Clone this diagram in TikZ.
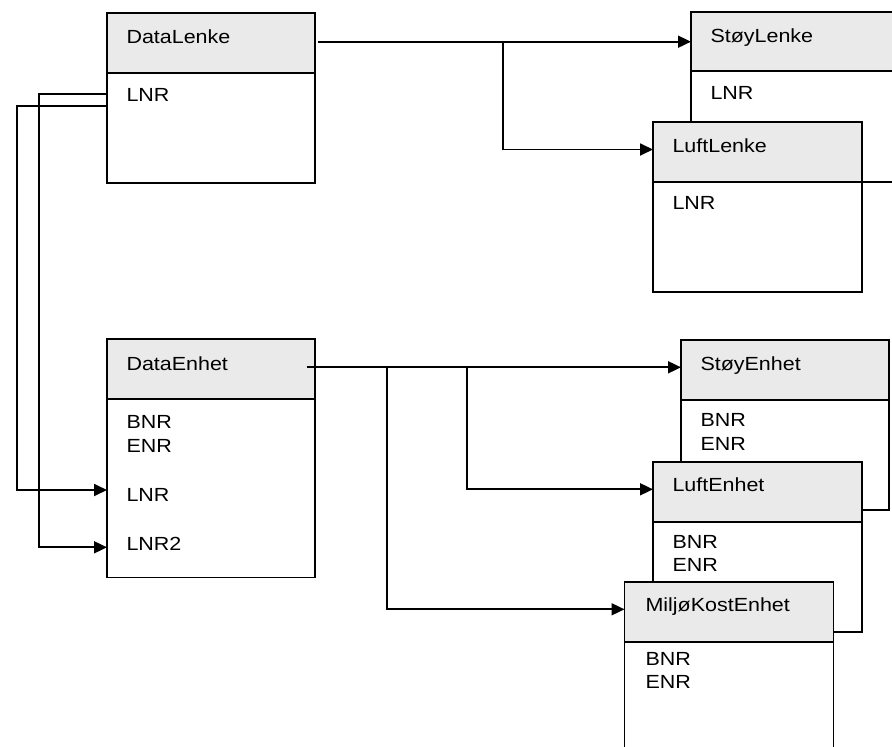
\documentclass[tikz,border=0pt]{standalone}
\usepackage{fontspec}
\setmainfont{Liberation Sans}[FakeStretch=1.13]
\usetikzlibrary{arrows.meta}
\definecolor{hdrgray}{RGB}{234,234,234}
\begin{document}
\begin{tikzpicture}[x=1pt,y=-1pt,line width=1.8pt,
  bdy/.style={draw,fill=white,anchor=north west,inner sep=0pt,outer sep=0pt},
  hdr/.style={draw,fill=hdrgray,anchor=north west,inner sep=0pt,outer sep=0pt},
  lbl/.style={anchor=base west,inner sep=0pt,outer sep=0pt,font=\fontsize{19}{24}\selectfont},
  conn/.style={-{Triangle[length=13pt,width=12pt]}},
  wire/.style={}]
\useasboundingbox (0,0) rectangle (892,747);
\clip (0,0) rectangle (892,747);

% DataLenke
\node[bdy,minimum width=208pt,minimum height=170pt] (dl) at (107,13) {};
\node[hdr,minimum width=208pt,minimum height=60pt] (dlh) at (107,13) {};
\node[lbl] (dlt) at (126.5,43) {DataLenke};
\node[lbl] (dl1) at (126.5,101) {LNR};

% DataEnhet
\node[bdy,minimum width=208pt,minimum height=238.5pt] (de) at (107,339) {};
\node[hdr,minimum width=208pt,minimum height=60pt] (deh) at (107,339) {};
\node[lbl] (det) at (126.5,370) {DataEnhet};
\node[lbl] (de1) at (126.5,428) {BNR};
\node[lbl] (de2) at (126.5,452.5) {ENR};
\node[lbl] (de3) at (126.5,501.5) {LNR};
\node[lbl] (de4) at (126.5,550.7) {LNR2};

% StoeyLenke
\node[bdy,minimum width=260pt,minimum height=170pt] (sl) at (691,12) {};
\node[hdr,minimum width=260pt,minimum height=59pt] (slh) at (691,12) {};
\node[lbl] (slt) at (710.5,42) {StøyLenke};
\node[lbl] (sl1) at (710.5,99) {LNR};

% LuftLenke
\node[bdy,minimum width=209pt,minimum height=170pt] (ll) at (653,122) {};
\node[hdr,minimum width=209pt,minimum height=60pt] (llh) at (653,122) {};
\node[lbl] (llt) at (672.5,152) {LuftLenke};
\node[lbl] (ll1) at (672.5,209) {LNR};

% StoeyEnhet
\node[bdy,minimum width=208pt,minimum height=170pt] (se) at (681,340) {};
\node[hdr,minimum width=208pt,minimum height=60pt] (seh) at (681,340) {};
\node[lbl] (set) at (700.5,370.7) {StøyEnhet};
\node[lbl] (se1) at (700.5,426) {BNR};
\node[lbl] (se2) at (700.5,450) {ENR};

% LuftEnhet
\node[bdy,minimum width=209pt,minimum height=170pt] (le) at (653,462) {};
\node[hdr,minimum width=209pt,minimum height=60pt] (leh) at (653,462) {};
\node[lbl] (let) at (672.5,491.7) {LuftEnhet};
\node[lbl] (le1) at (672.5,548.3) {BNR};
\node[lbl] (le2) at (672.5,571.7) {ENR};

% MiljoeKostEnhet
\node[bdy,minimum width=209pt,minimum height=220pt] (mk) at (624.5,582) {};
\node[hdr,minimum width=209pt,minimum height=60pt] (mkh) at (624.5,582) {};
\node[lbl] (mkt) at (645.5,611.7) {MiljøKostEnhet};
\node[lbl] (mk1) at (645.5,665) {BNR};
\node[lbl] (mk2) at (645.5,688.3) {ENR};

% connectors DataLenke -> StoeyLenke / LuftLenke
\coordinate (dlout) at (318,41.7);
\coordinate (dlbr) at (503.3,41.7);
\draw[conn] (dlout) -- (slh.west |- dlout);
\draw[conn] (dlbr) |- ([yshift=2.5pt]llh.west);

% connectors DataEnhet -> StoeyEnhet / LuftEnhet / MiljoeKostEnhet
\coordinate (deout) at (306.5,367.3);
\coordinate (debr1) at (387,367.3);
\coordinate (debr2) at (466.7,367.3);
\draw[conn] (deout) -- (seh.west |- deout);
\draw[conn] (debr2) |- ([yshift=2.7pt]leh.west);
\draw[conn] (debr1) |- ([yshift=2.7pt]mkh.west);

% connectors DataLenke.LNR -> DataEnhet.LNR / LNR2
\draw[conn] ([yshift=4pt]dl.west) -- ++(-68,0) |- (de.west |- 0,547.3);
\draw[conn] ([yshift=-8pt]dl.west) -- ++(-90,0) |- (de.west |- 0,490);
\end{tikzpicture}
\end{document}
